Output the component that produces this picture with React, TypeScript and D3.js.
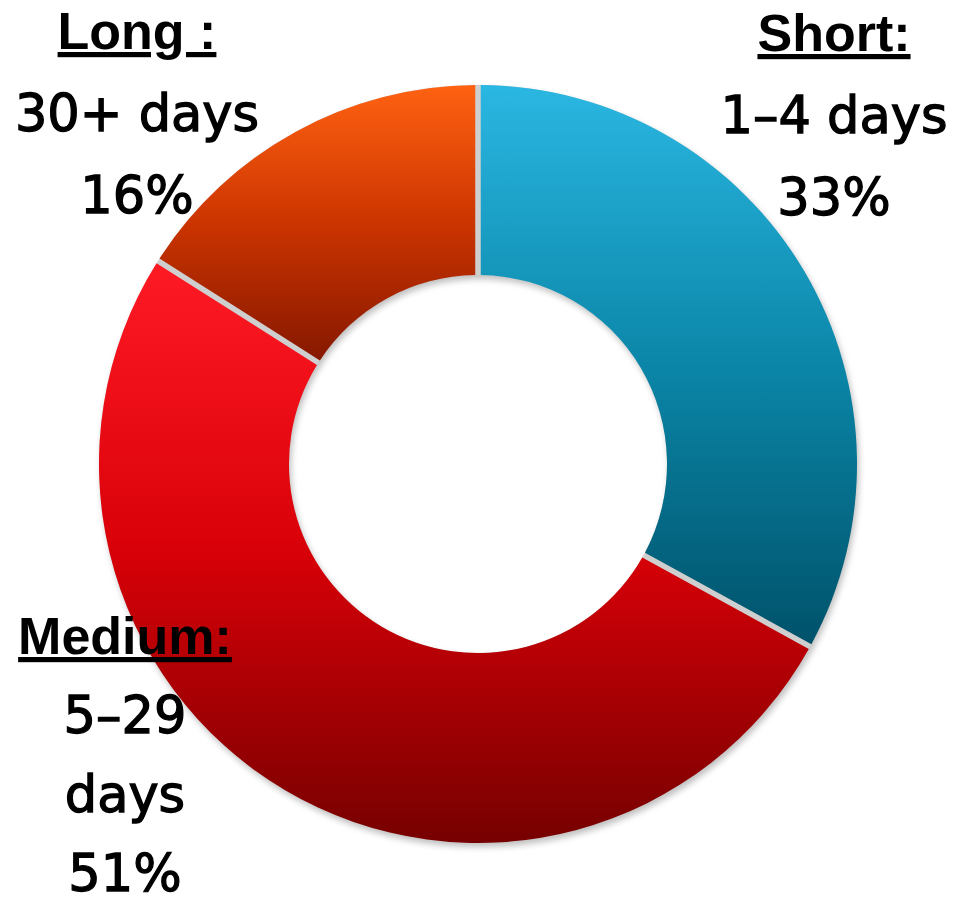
import React from "react";
import * as d3 from "d3";

// values
const categories = ["Short", "Medium", "Long"];
const titles = ["Short:", "Medium:", "Long :"];
const ranges = [["1–4 days"], ["5–29", "days"], ["30+ days"]];
const shares = [33, 51, 16];

// gradient stops per slice: top -> middle -> bottom
const topColors = ["#2ab7e2", "#ff1a24", "#ff6212"];
const midColors = ["#0b86a8", "#d80008", "#cc3400"];
const bottomColors = ["#00526a", "#760000", "#861800"];

const width = 963;
const height = 905;
const cx = 478;
const cy = 464;
const outerR = 379;
const innerR = 189;

// where each label block is centred, first baseline
const labelPos = [
  { x: 834, y: 51, gap: 82 },
  { x: 125, y: 654, gap: 79 },
  { x: 137, y: 49, gap: 82 },
];

const App = () => {
  const pie = d3
    .pie<number>()
    .sort(null)
    .value((d) => d)
    .startAngle(0)
    .endAngle(2 * Math.PI);

  const arc = d3
    .arc<d3.PieArcDatum<number>>()
    .innerRadius(innerR)
    .outerRadius(outerR)
    .padAngle(0.013);

  const ring = d3
    .arc()
    .innerRadius(innerR)
    .outerRadius(outerR)
    .startAngle(0)
    .endAngle(2 * Math.PI);

  const slices = pie(shares);

  return (
    <svg
      width={width}
      height={height}
      style={{ position: "absolute", left: 0, top: 0, background: "#fff" }}
    >
      <defs>
        {categories.map((c, i) => (
          <linearGradient key={c} id={"grad-" + c} x1="0" y1="0" x2="0" y2="1">
            <stop offset="0%" stopColor={topColors[i]} />
            <stop offset="50%" stopColor={midColors[i]} />
            <stop offset="100%" stopColor={bottomColors[i]} />
          </linearGradient>
        ))}
        <filter id="soft" x="-10%" y="-10%" width="120%" height="120%">
          <feGaussianBlur stdDeviation="3" />
        </filter>
      </defs>

      <g transform={`translate(${cx},${cy})`}>
        {/* gray shadow ring behind, shows through the gaps */}
        <path
          d={ring({} as any) as string}
          transform="translate(2,4)"
          fill="#8a8a8a"
          opacity={0.55}
          filter="url(#soft)"
        />
        <path d={ring({} as any) as string} fill="#cfcfcf" />
        {slices.map((s, i) => (
          <path
            key={categories[i]}
            d={arc(s) as string}
            fill={`url(#grad-${categories[i]})`}
          />
        ))}
      </g>

      {categories.map((c, i) => {
        const lines = [titles[i], ...ranges[i], shares[i] + "%"];
        return (
          <g key={c}>
            {lines.map((t, j) => (
              <text
                key={j}
                x={labelPos[i].x}
                y={labelPos[i].y + j * labelPos[i].gap}
                textAnchor="middle"
                fill="#000"
                stroke={j === 0 ? "none" : "#000"}
                strokeWidth={j === 0 ? 0 : 1.3}
                style={
                  j === 0
                    ? {
                        fontFamily: "Liberation Sans, Arial, sans-serif",
                        fontWeight: "bold",
                        fontSize: 52,
                        textDecoration: "underline",
                        textDecorationThickness: "3px",
                        textUnderlineOffset: "6px",
                      }
                    : {
                        fontFamily: "DejaVu Sans, sans-serif",
                        fontSize: 51,
                      }
                }
              >
                {t}
              </text>
            ))}
          </g>
        );
      })}
    </svg>
  );
};

export default App;
